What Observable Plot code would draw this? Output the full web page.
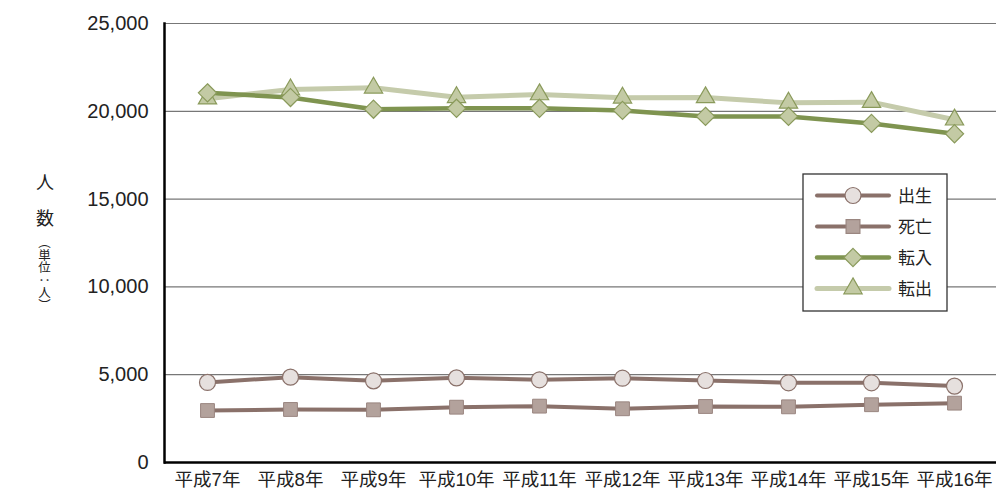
<!DOCTYPE html>
<html><head><meta charset="utf-8">
<script src="https://cdn.jsdelivr.net/npm/d3@7"></script>
<script src="https://cdn.jsdelivr.net/npm/@observablehq/plot@0.6"></script>
<style>
body{margin:0;background:#fff;}
#wrap{position:relative;width:996px;height:494px;font-family:'Liberation Sans','Noto Sans CJK JP',sans-serif;}
.yt{position:absolute;font-family:'Noto Sans CJK JP',sans-serif;color:#222;}
</style></head>
<body><div id="wrap"></div>
<script>
const years = ["平成7年","平成8年","平成9年","平成10年","平成11年","平成12年","平成13年","平成14年","平成15年","平成16年"];
const birth   = [4560,4860,4650,4820,4710,4800,4670,4540,4540,4350];
const death   = [2960,3020,3000,3150,3210,3060,3190,3170,3290,3380];
const moveIn  = [21050,20790,20120,20170,20170,20050,19710,19710,19310,18720];
const moveOut = [20720,21240,21340,20800,20960,20770,20790,20480,20520,19520];
const yTicks = [0,5000,10000,15000,20000,25000];
const seriesNames = ["出生","死亡","転入","転出"];

const rows = (vals) => years.map((y,i)=>({year:y, value:vals[i]}));
const dBirth = rows(birth), dDeath = rows(death), dIn = rows(moveIn), dOut = rows(moveOut);

const C = {
  brownLine:"#8a716a", circleFill:"#e6e0de", squareFill:"#b3a29c",
  inLine:"#7f9450", outLine:"#c5cbab", markFill:"#c3caa4", markStroke:"#8a9a5b"
};

const chart = Plot.plot({
  width:996, height:494,
  marginLeft:164, marginRight:0, marginTop:23, marginBottom:32,
  style:{fontFamily:"'Liberation Sans','Noto Sans CJK JP',sans-serif", fontSize:"19px", color:"#222", background:"white", overflow:"visible"},
  x:{type:"point", domain:years, padding:0.5},
  y:{domain:[0,25000]},
  marks:[
    Plot.gridY(yTicks, {stroke:"#777", strokeOpacity:1, strokeWidth:1.2}),
    Plot.axisY(yTicks, {tickSize:0, tickPadding:16, tickFormat:d3.format(","), fontSize:20, label:null, style:{letterSpacing:"0.8px"}}),
    Plot.axisX({tickSize:0, tickPadding:10, fontSize:18.5, label:null}),
    Plot.frame({anchor:"left", stroke:"#000", strokeWidth:2.5}),
    Plot.ruleY([0], {stroke:"#000", strokeWidth:2.5}),
    Plot.line(dBirth, {x:"year", y:"value", stroke:C.brownLine, strokeWidth:4}),
    Plot.line(dDeath, {x:"year", y:"value", stroke:C.brownLine, strokeWidth:4}),
    Plot.line(dOut, {x:"year", y:"value", stroke:C.outLine, strokeWidth:5}),
    Plot.line(dIn, {x:"year", y:"value", stroke:C.inLine, strokeWidth:4.5}),
    Plot.dot(dBirth, {x:"year", y:"value", symbol:"circle", r:8, fill:C.circleFill, stroke:C.brownLine, strokeWidth:1.2}),
    Plot.dot(dDeath, {x:"year", y:"value", symbol:"square", r:7.8, fill:C.squareFill, stroke:"#9a8680", strokeWidth:1}),
    Plot.dot(dOut, {x:"year", y:"value", symbol:"triangle", r:6.8, fill:C.markFill, stroke:C.markStroke, strokeWidth:1.2}),
    Plot.dot(dIn, {x:"year", y:"value", symbol:"diamond2", r:8.2, fill:C.markFill, stroke:C.markStroke, strokeWidth:1.2})
  ]
});
const wrap = document.getElementById("wrap");
wrap.appendChild(chart);

// Y axis title (vertical)
const t1 = document.createElement("div"); t1.className="yt"; t1.textContent="人";
Object.assign(t1.style,{left:"36px",top:"172px",fontSize:"18px",lineHeight:"18px"});
const t2 = document.createElement("div"); t2.className="yt"; t2.textContent="数";
Object.assign(t2.style,{left:"36px",top:"208px",fontSize:"18px",lineHeight:"18px"});
const t3 = document.createElement("div"); t3.className="yt"; t3.textContent="（単位：人）";
Object.assign(t3.style,{left:"38px",top:"236px",fontSize:"12.5px",lineHeight:"13px",writingMode:"vertical-rl",textOrientation:"mixed"});
wrap.append(t1,t2,t3);

// Legend
const lg = d3.select(wrap).append("svg").attr("width",147).attr("height",139)
  .style("position","absolute").style("left","802px").style("top","173px");
lg.append("rect").attr("x",1).attr("y",1).attr("width",144).attr("height",137).attr("fill","white").attr("stroke","#333").attr("stroke-width",1.3);
const legendStyle = [
  {line:C.brownLine, w:4, sym:d3.symbolCircle, size:Math.PI*64, fill:C.circleFill, stroke:C.brownLine},
  {line:C.brownLine, w:4, sym:d3.symbolSquare, size:Math.PI*7.8*7.8, fill:C.squareFill, stroke:"#9a8680"},
  {line:C.inLine, w:4.5, sym:d3.symbolDiamond2, size:Math.PI*8.2*8.2, fill:C.markFill, stroke:C.markStroke},
  {line:C.outLine, w:5, sym:d3.symbolTriangle, size:Math.PI*6.8*6.8, fill:C.markFill, stroke:C.markStroke}
];
seriesNames.forEach((name,i)=>{
  const y = 22.5 + i*31;
  const s = legendStyle[i];
  lg.append("line").attr("x1",15).attr("x2",87).attr("y1",y).attr("y2",y).attr("stroke",s.line).attr("stroke-width",s.w).attr("stroke-linecap","round");
  lg.append("path").attr("d",d3.symbol(s.sym,s.size)()).attr("transform",`translate(51,${y})`).attr("fill",s.fill).attr("stroke",s.stroke).attr("stroke-width",1.2);
  lg.append("text").attr("x",96).attr("y",y).attr("dy","0.36em").attr("font-size",17).attr("fill","#222")
    .attr("font-family","'Noto Sans CJK JP',sans-serif").text(name);
});
</script></body></html>
